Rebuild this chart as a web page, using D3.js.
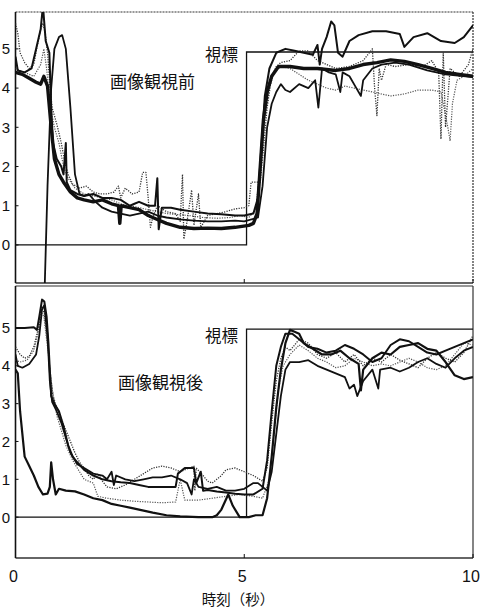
<!DOCTYPE html>
<html>
<head>
<meta charset="utf-8">
<script src="https://cdn.jsdelivr.net/npm/d3@7"></script>
<style>
  html, body { margin: 0; padding: 0; background: #fff; }
  svg { display: block; }
  text { font-family: "Liberation Sans", Arial, sans-serif; fill: #111; }
  .jp { font-family: "Noto Sans CJK JP", "Noto Sans CJK SC", sans-serif; }
</style>
</head>
<body>
<svg id="chart" width="482" height="611"></svg>
<script>
// Time axis (seconds) and value ticks
const xTicks = [0, 5, 10];
const yTicks = [0, 1, 2, 3, 4, 5];

// Target (視標) step: zero until onset, then the target level
const targetBefore = [[0, 0], [5.05, 0], [5.05, 4.92], [10, 4.92]];
const targetAfter  = [[0, 0], [5.05, 0], [5.05, 4.97], [10, 4.97]];

// ---- 画像観視前 (before viewing) ----
const beforeHeavy = [[0,4.4],[0.15,4.35],[0.3,4.25],[0.45,4.15],[0.55,4.1],[0.62,4.3],[0.7,4.05],[0.78,3.0],[0.85,2.2],[0.95,1.8],[1.05,1.6],[1.2,1.35],[1.35,1.2],[1.5,1.15],[1.7,1.1],[1.9,1.15],[2.1,1.05],[2.25,1.0],[2.28,0.55],[2.31,1.0],[2.5,0.95],[2.7,0.9],[2.9,0.75],[3.1,0.65],[3.3,0.55],[3.6,0.45],[3.9,0.42],[4.2,0.43],[4.5,0.42],[4.8,0.45],[5.1,0.5],[5.2,0.55],[5.28,0.8],[5.35,2.0],[5.42,3.2],[5.5,3.9],[5.6,4.3],[5.75,4.55],[6.0,4.55],[6.3,4.5],[6.6,4.5],[7.0,4.45],[7.3,4.5],[7.6,4.6],[7.9,4.65],[8.2,4.72],[8.5,4.68],[8.8,4.6],[9.1,4.5],[9.4,4.4],[9.7,4.35],[10,4.3]];

const beforeUpper = [[0,4.8],[0.05,4.45],[0.2,4.4],[0.35,4.5],[0.45,5.0],[0.55,5.5],[0.6,6.1],[0.66,5.2],[0.74,4.9],[0.78,3.5],[0.82,2.6],[0.9,2.2],[1.0,2.0],[1.05,1.8],[1.1,2.6],[1.12,1.6],[1.2,1.4],[1.35,1.3],[1.5,1.25],[1.7,1.3],[1.9,1.2],[2.1,1.2],[2.3,1.15],[2.5,1.0],[2.6,1.05],[2.7,1.1],[2.9,1.0],[3.05,1.0],[3.1,1.7],[3.13,0.4],[3.2,0.95],[3.4,0.95],[3.6,0.9],[3.9,0.85],[4.2,0.8],[4.5,0.78],[4.8,0.75],[5.0,0.75],[5.2,0.8],[5.3,1.2],[5.38,2.6],[5.45,3.8],[5.55,4.5],[5.7,4.9],[5.9,5.0],[6.1,4.95],[6.3,4.9],[6.5,4.85],[6.6,5.1],[6.65,4.6],[6.7,5.0],[6.8,5.3],[6.9,5.7],[6.97,5.6],[7.05,4.9],[7.15,4.8],[7.3,5.2],[7.5,5.35],[7.8,5.45],[8.1,5.45],[8.4,5.38],[8.5,5.05],[8.7,5.3],[9.0,5.4],[9.3,5.2],[9.6,5.15],[9.8,5.3],[10,5.6]];

const beforeLower = [[0,-1.5],[0.62,-1.5],[0.64,-1.0],[0.7,1.5],[0.78,4.0],[0.85,5.0],[0.95,5.3],[1.02,5.35],[1.1,5.0],[1.2,3.5],[1.3,1.8],[1.4,1.3],[1.5,1.25],[1.6,1.3],[1.75,1.1],[1.9,0.95],[2.1,0.85],[2.3,0.8],[2.5,0.75],[2.7,0.8],[2.9,0.85],[3.1,0.75],[3.3,0.7],[3.6,0.65],[3.9,0.62],[4.2,0.6],[4.5,0.6],[4.8,0.62],[5.0,0.6],[5.3,0.7],[5.4,1.5],[5.5,3.0],[5.6,3.6],[5.7,3.9],[5.8,4.1],[5.9,3.95],[6.0,3.9],[6.2,4.1],[6.4,4.0],[6.55,4.2],[6.62,3.5],[6.7,4.5],[6.85,4.4],[7.0,4.35],[7.1,3.9],[7.15,4.4],[7.3,4.3],[7.45,4.0],[7.55,3.8],[7.6,4.2],[7.8,4.5],[8.0,4.6],[8.3,4.65],[8.6,4.6],[9.0,4.45],[9.4,4.35],[10,4.28]];

const beforeDotA = [[0,5.65],[0.05,5.4],[0.1,4.9],[0.2,4.65],[0.3,4.5],[0.4,4.6],[0.48,5.1],[0.55,5.5],[0.6,5.65],[0.65,5.4],[0.7,4.9],[0.75,4.1],[0.8,3.5],[0.85,3.3],[0.92,3.0],[1.0,2.6],[1.08,2.1],[1.15,1.8],[1.25,1.55],[1.4,1.45],[1.55,1.5],[1.7,1.35],[1.85,1.3],[2.0,1.3],[2.15,1.35],[2.25,1.5],[2.3,1.2],[2.4,1.45],[2.55,1.3],[2.7,1.35],[2.78,1.85],[2.85,1.85],[2.9,1.2],[2.95,0.45],[3.0,0.7],[3.1,1.0],[3.3,0.85],[3.5,0.8],[3.6,0.6],[3.65,1.8],[3.68,0.15],[3.75,0.6],[3.85,1.4],[3.9,0.5],[4.0,1.3],[4.05,0.45],[4.2,0.75],[4.4,0.8],[4.6,0.85],[4.8,0.92],[5.0,0.95],[5.1,1.0],[5.15,1.6],[5.35,1.6],[5.4,2.2],[5.5,3.5],[5.6,4.3],[5.7,4.55],[5.8,4.65],[6.0,4.7],[6.2,4.95],[6.4,4.95],[6.6,4.7],[6.8,4.6],[7.0,4.5],[7.3,4.55],[7.6,4.7],[7.8,5.0],[7.85,4.0],[7.9,3.3],[7.95,4.5],[8.0,4.2],[8.1,4.6],[8.3,4.55],[8.6,4.6],[8.9,4.55],[9.1,4.7],[9.25,4.4],[9.3,2.7],[9.35,4.9],[9.4,3.0],[9.5,4.5],[9.7,4.3],[9.9,4.6],[10,5.0]];

const beforeDotB = [[0,4.5],[0.2,4.4],[0.4,4.3],[0.55,4.6],[0.62,5.0],[0.68,4.5],[0.75,3.6],[0.85,3.0],[0.95,2.6],[1.05,2.0],[1.15,1.7],[1.3,1.45],[1.5,1.3],[1.7,1.25],[1.9,1.2],[2.1,1.15],[2.3,1.05],[2.5,1.0],[2.7,0.95],[2.9,0.9],[3.1,0.85],[3.3,0.8],[3.5,0.78],[3.8,0.75],[4.1,0.7],[4.4,0.68],[4.7,0.7],[4.9,0.75],[5.1,0.7],[5.25,0.9],[5.35,2.0],[5.45,3.2],[5.55,4.0],[5.65,4.4],[5.8,4.55],[6.0,4.5],[6.2,4.35],[6.4,4.2],[6.6,4.1],[6.8,4.0],[7.0,3.95],[7.2,4.05],[7.4,4.0],[7.6,3.95],[7.8,3.9],[8.0,3.85],[8.2,3.8],[8.5,3.85],[8.8,3.95],[9.1,3.95],[9.3,3.9],[9.45,3.0],[9.5,2.65],[9.55,3.6],[9.65,4.2],[9.8,4.3],[10,4.5]];

// ---- 画像観視後 (after viewing) ----
const afterFlatStart = [[0,5.0],[0.2,5.0],[0.4,5.02],[0.47,4.95],[0.52,5.3],[0.58,5.75],[0.63,5.7],[0.68,5.3],[0.72,4.6],[0.78,3.2],[0.85,3.0],[0.95,2.8],[1.05,2.4],[1.15,1.9],[1.25,1.6],[1.35,1.45],[1.5,1.25],[1.7,1.1],[1.9,1.0],[2.1,0.95],[2.3,0.92],[2.5,0.9],[2.7,0.85],[2.9,0.8],[3.1,0.8],[3.5,0.8],[3.55,1.15],[3.7,1.3],[3.9,1.3],[3.95,0.9],[4.05,1.2],[4.1,0.7],[4.2,0.72],[4.4,0.68],[4.6,0.65],[4.8,0.62],[5.0,0.6],[5.2,0.6],[5.4,0.75],[5.5,1.5],[5.6,2.8],[5.7,4.0],[5.8,4.5],[5.9,4.85],[6.05,4.85],[6.2,4.7],[6.4,4.5],[6.6,4.45],[6.8,4.35],[7.0,4.4],[7.2,4.55],[7.4,4.45],[7.6,4.3],[7.8,4.1],[8.0,4.2],[8.2,4.55],[8.4,4.7],[8.6,4.65],[8.8,4.5],[9.0,4.35],[9.2,4.3],[9.4,4.4],[9.6,4.5],[9.8,4.6],[10,4.7]];

const afterFastDrop = [[0,3.9],[0.05,3.8],[0.1,2.8],[0.2,1.6],[0.3,1.35],[0.4,1.1],[0.5,0.8],[0.6,0.6],[0.7,0.62],[0.75,0.8],[0.78,1.45],[0.82,1.0],[0.88,0.6],[0.95,0.75],[1.1,0.7],[1.3,0.68],[1.5,0.6],[1.7,0.5],[1.9,0.45],[2.1,0.35],[2.3,0.3],[2.5,0.25],[2.7,0.2],[3.0,0.12],[3.3,0.05],[3.6,0.02],[4.0,0.0],[4.3,0.0],[4.4,0.05],[4.5,0.2],[4.65,0.6],[4.75,0.3],[4.9,0.0],[5.1,0.0],[5.25,0.05],[5.4,0.05],[5.5,0.5],[5.6,1.6],[5.7,2.9],[5.8,3.9],[5.9,4.6],[6.0,4.95],[6.1,4.9],[6.2,4.85],[6.3,4.6],[6.5,4.45],[6.7,4.3],[6.9,4.3],[7.1,4.4],[7.3,4.2],[7.5,4.05],[7.55,3.35],[7.6,3.9],[7.8,4.2],[8.0,4.35],[8.2,4.3],[8.4,4.5],[8.6,4.55],[8.8,4.6],[9.0,4.45],[9.2,4.4],[9.4,4.1],[9.6,3.75],[9.8,3.65],[10,3.7]];

const afterMid = [[0,4.3],[0.05,4.0],[0.15,3.95],[0.3,4.05],[0.45,4.3],[0.52,4.8],[0.58,5.5],[0.63,5.6],[0.7,4.8],[0.75,3.6],[0.8,3.05],[0.9,2.8],[1.0,2.5],[1.1,2.1],[1.2,1.7],[1.35,1.4],[1.5,1.3],[1.7,1.15],[1.9,1.1],[2.0,1.0],[2.1,1.2],[2.15,0.85],[2.2,1.1],[2.4,1.0],[2.6,0.95],[2.8,1.0],[3.0,1.05],[3.2,1.05],[3.4,1.1],[3.6,1.0],[3.75,0.9],[3.85,0.6],[3.9,1.0],[4.0,0.8],[4.2,0.75],[4.4,0.8],[4.6,0.7],[4.8,0.7],[5.0,0.75],[5.2,0.9],[5.3,0.9],[5.4,0.8],[5.5,0.7],[5.6,1.2],[5.7,2.2],[5.8,3.2],[5.9,3.9],[6.0,4.1],[6.2,4.1],[6.4,4.15],[6.6,4.0],[6.8,3.9],[7.0,3.8],[7.2,3.7],[7.3,3.4],[7.4,3.5],[7.47,3.2],[7.6,3.6],[7.8,3.9],[7.93,3.4],[7.97,3.9],[8.2,3.95],[8.4,3.85],[8.6,3.95],[8.8,4.1],[9.0,4.2],[9.2,4.05],[9.4,3.95],[9.6,4.2],[9.8,4.4],[10,4.5]];

const afterDotA = [[0,4.5],[0.1,4.3],[0.2,4.2],[0.3,4.25],[0.4,4.5],[0.5,5.0],[0.57,5.55],[0.63,5.4],[0.7,4.6],[0.76,3.8],[0.82,3.2],[0.9,2.9],[1.0,2.6],[1.1,2.3],[1.2,2.0],[1.3,1.7],[1.4,1.45],[1.5,1.3],[1.6,1.1],[1.7,1.0],[1.8,1.15],[1.9,0.95],[2.0,0.8],[2.2,0.75],[2.4,0.85],[2.6,1.0],[2.8,1.15],[3.0,1.3],[3.2,1.35],[3.4,1.3],[3.6,1.2],[3.8,1.3],[3.9,1.35],[3.92,0.7],[3.95,1.3],[4.1,1.1],[4.2,0.95],[4.3,0.9],[4.5,1.1],[4.6,1.25],[4.8,1.3],[5.0,1.2],[5.2,1.1],[5.4,0.95],[5.5,1.3],[5.6,2.5],[5.7,3.6],[5.8,4.2],[5.9,4.5],[6.0,4.4],[6.2,4.7],[6.4,4.6],[6.6,4.3],[6.8,4.2],[7.0,4.35],[7.2,4.1],[7.4,4.3],[7.6,4.0],[7.8,4.2],[8.0,4.1],[8.2,4.3],[8.4,4.15],[8.6,4.05],[8.8,3.95],[9.0,4.2],[9.2,4.35],[9.4,4.2],[9.6,4.1],[9.8,4.35],[10,4.8]];

const afterDotB = [[0,4.15],[0.1,4.1],[0.25,4.15],[0.4,4.4],[0.5,4.9],[0.57,5.4],[0.62,5.3],[0.7,4.5],[0.8,3.4],[0.9,2.7],[1.0,2.3],[1.1,1.9],[1.25,1.5],[1.4,1.2],[1.5,1.0],[1.7,0.9],[1.8,0.55],[2.0,0.5],[2.3,0.45],[2.6,0.42],[2.9,0.4],[3.2,0.38],[3.5,0.4],[3.6,1.0],[3.7,0.45],[4.0,0.45],[4.3,0.5],[4.6,0.55],[4.9,0.6],[5.2,0.55],[5.4,0.5],[5.55,1.0],[5.65,2.2],[5.75,3.4],[5.85,4.0],[6.0,4.3],[6.2,4.55],[6.4,4.4],[6.6,4.2],[6.8,4.1],[7.0,3.95],[7.2,4.0],[7.4,4.2],[7.6,4.1],[7.8,4.0],[8.0,4.05],[8.2,4.0],[8.4,4.1],[8.6,4.2],[8.8,4.1],[9.0,3.95],[9.2,3.9],[9.4,4.0],[9.6,4.3],[9.8,4.6],[10,4.55]];

const svg = d3.select("#chart");

const x = d3.scaleLinear().domain([0, 10]).range([15.5, 473]);

const panels = [
  {
    id: "before", top: 12, bottom: 283,
    y: d3.scaleLinear().domain([-0.97, 5.94]).range([283, 12]),
    target: targetBefore,
    title: "画像観視前", titleX: 110, titleY: 88,
    targetLabelX: 205, targetLabelY: 61,
    frameDash: "2,1",
    traces: [
      { data: beforeDotB,  w: 1.2, color: "#555", dash: "1.2,1.3" },
      { data: beforeDotA,  w: 1.3, color: "#333", dash: "1.2,1.3" },
      { data: beforeLower, w: 1.8, color: "#111" },
      { data: beforeUpper, w: 2.0, color: "#111" },
      { data: beforeHeavy, w: 3.4, color: "#111" }
    ]
  },
  {
    id: "after", top: 286, bottom: 558,
    y: d3.scaleLinear().domain([-1.08, 6.11]).range([558, 286]),
    target: targetAfter,
    title: "画像観視後", titleX: 118, titleY: 389,
    targetLabelX: 205, targetLabelY: 342,
    frameDash: null,
    traces: [
      { data: afterDotB,      w: 1.2, color: "#555", dash: "1.2,1.3" },
      { data: afterDotA,      w: 1.3, color: "#333", dash: "1.2,1.3" },
      { data: afterMid,       w: 1.8, color: "#111" },
      { data: afterFlatStart, w: 2.0, color: "#111" },
      { data: afterFastDrop,  w: 2.2, color: "#111" }
    ]
  }
];

panels.forEach(p => {
  const g = svg.append("g").attr("class", "panel-" + p.id);
  const x0 = x(0), x1 = x(10);

  g.append("clipPath").attr("id", "clip-" + p.id)
    .append("rect")
    .attr("x", x0).attr("y", p.top)
    .attr("width", x1 - x0).attr("height", p.bottom - p.top);

  // frame: top, right, bottom edges
  const edge = (xa, ya, xb, yb) => g.append("line")
    .attr("x1", xa).attr("y1", ya).attr("x2", xb).attr("y2", yb)
    .attr("stroke", "#333").attr("stroke-width", 1.2)
    .attr("stroke-dasharray", p.frameDash);
  edge(x0, p.top, x1, p.top);
  edge(x1, p.top, x1, p.bottom);
  g.append("line")
    .attr("x1", x0).attr("y1", p.bottom).attr("x2", x1).attr("y2", p.bottom)
    .attr("stroke", "#333").attr("stroke-width", 1.3);

  // left value axis with inward ticks
  g.append("line")
    .attr("x1", x0).attr("y1", p.top).attr("x2", x0).attr("y2", p.bottom)
    .attr("stroke", "#111").attr("stroke-width", 1.6);
  g.selectAll(".ytick").data(yTicks).join("line")
    .attr("x1", x0).attr("x2", x0 + 3)
    .attr("y1", d => p.y(d)).attr("y2", d => p.y(d))
    .attr("stroke", "#111").attr("stroke-width", 1);
  g.selectAll(".ylab").data(yTicks).join("text")
    .attr("x", 10).attr("y", d => p.y(d)).attr("dy", "0.36em")
    .attr("text-anchor", "end").attr("font-size", 15)
    .text(d => d);

  // time ticks along the bottom edge
  g.selectAll(".xtick").data(xTicks).join("line")
    .attr("x1", d => x(d)).attr("x2", d => x(d))
    .attr("y1", p.bottom).attr("y2", p.bottom - 4)
    .attr("stroke", "#111").attr("stroke-width", 1);

  const plot = g.append("g").attr("clip-path", "url(#clip-" + p.id + ")");

  // target step
  const line = d3.line().x(d => x(d[0])).y(d => p.y(d[1]));
  plot.append("path")
    .attr("d", line(p.target))
    .attr("fill", "none").attr("stroke", "#111").attr("stroke-width", 1.3);

  // eye-tracking traces
  p.traces.forEach(tr => {
    plot.append("path")
      .attr("d", line(tr.data))
      .attr("fill", "none")
      .attr("stroke", tr.color)
      .attr("stroke-width", tr.w)
      .attr("stroke-linejoin", "round")
      .attr("stroke-dasharray", tr.dash || null);
  });

  g.append("text").attr("class", "jp")
    .attr("x", p.targetLabelX).attr("y", p.targetLabelY)
    .attr("font-size", 16.5).text("視標");
  g.append("text").attr("class", "jp")
    .attr("x", p.titleX).attr("y", p.titleY)
    .attr("font-size", 17).text(p.title);
});

// time labels under the lower panel
svg.selectAll(".xlab").data(xTicks).join("text")
  .attr("x", d => x(d) - 2).attr("y", 582)
  .attr("text-anchor", "middle").attr("font-size", 16)
  .text(d => d);

svg.append("text").attr("class", "jp")
  .attr("x", 238).attr("y", 605)
  .attr("text-anchor", "middle").attr("font-size", 14.5)
  .text("時刻（秒）");
</script>
</body>
</html>
